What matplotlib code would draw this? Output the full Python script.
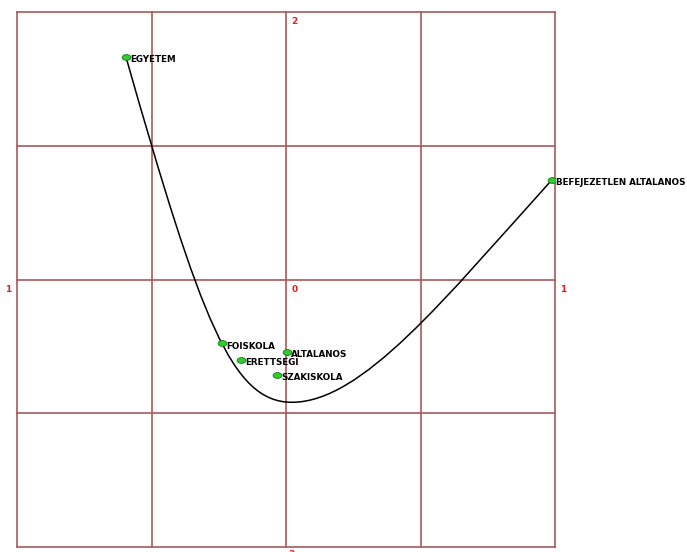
import matplotlib
matplotlib.use("Agg")
import matplotlib.pyplot as plt
from matplotlib.path import Path
from matplotlib.patches import PathPatch
from matplotlib.markers import MarkerStyle
from matplotlib.transforms import Affine2D

# category coordinates
labels = ["EGYETEM", "BEFEJEZETLEN ALTALANOS", "FOISKOLA", "ERETTSEGI", "ALTALANOS", "SZAKISKOLA"]
xs = [-0.595, 0.989, -0.239, -0.168, 0.004, -0.032]
ys = [1.664, 0.746, -0.478, -0.599, -0.543, -0.714]

# fitted curve, as cubic bezier control points
curve_x = [-0.595, -0.316, -0.201, 0.022, 0.283, 0.587, 0.989]
curve_y = [1.664, -0.306, -0.918, -0.918, -0.918, -0.149, 0.746]

grid_x = [-1, -0.5, 0, 0.5, 1]
grid_y = [-2, -1, 0, 1, 2]

W, H = 687, 552
fig = plt.figure(figsize=(W / 100, H / 100), dpi=100)
ax = fig.add_axes([17 / W, 5 / H, 538 / W, 535 / H])
ax.set_xlim(-1, 1)
ax.set_ylim(-2, 2)
ax.axis("off")

gcol = "#a85a5a"
for gx in grid_x:
    ax.axvline(gx, color=gcol, lw=1.2, zorder=1, clip_on=False)
for gy in grid_y:
    ax.axhline(gy, color=gcol, lw=1.2, zorder=1, clip_on=False)

# axis end labels
red = "#e02020"
kw = dict(color=red, fontsize=6.5, fontweight="bold", clip_on=False)
ax.text(0.02, 1.96, "2", ha="left", va="top", **kw)
ax.text(0.02, -0.04, "0", ha="left", va="top", **kw)
ax.text(-1.02, -0.04, "1", ha="right", va="top", **kw)
ax.text(1.02, -0.04, "1", ha="left", va="top", **kw)
ax.text(0.01, -2.02, "2", ha="left", va="top", **kw)

verts = list(zip(curve_x, curve_y))
codes = [Path.MOVETO] + [Path.CURVE4] * (len(verts) - 1)
ax.add_patch(PathPatch(Path(verts, codes), fill=False, color="black", lw=1.1, zorder=2))

mk = MarkerStyle("o", transform=Affine2D().scale(1.5, 1.0))
ax.plot(xs, ys, linestyle="none", marker=mk, markersize=4.2,
        markerfacecolor="#2ecc2e", markeredgecolor="#137a13", markeredgewidth=0.6, zorder=3)

for lab, x, y in zip(labels, xs, ys):
    ax.annotate(lab, (x, y), xytext=(3, -2), textcoords="offset points",
                fontsize=6.3, fontweight="bold", ha="left", va="center",
                color="black", annotation_clip=False, zorder=4)

fig.savefig("out.png", dpi=100, facecolor="white")
